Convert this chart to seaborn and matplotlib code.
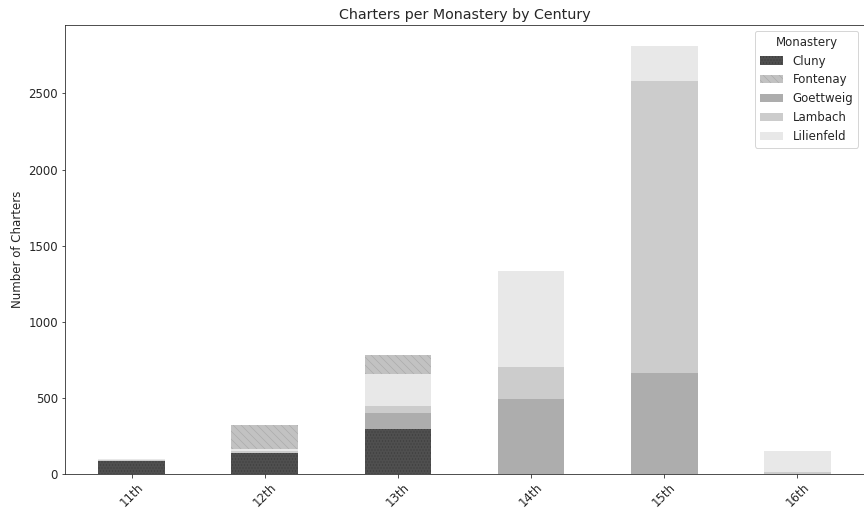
import numpy as np
import matplotlib
matplotlib.use("Agg")
import matplotlib.pyplot as plt
from matplotlib.patches import Patch
import seaborn as sns

# Data (charters per century, per monastery)
centuries = ["11th", "12th", "13th", "14th", "15th", "16th"]
cluny = [85, 140, 298, 0, 0, 0]
goettweig = [0, 0, 101, 490, 662, 0]
lambach = [10, 8, 48, 212, 1922, 10]
lilienfeld = [3, 14, 211, 634, 225, 141]
fontenay = [0, 160, 125, 0, 0, 0]

# stacking order bottom -> top as it appears in the chart
layers = [
    ("Cluny", cluny, "#4f4f4f", "....", "#3c3c3c"),
    ("Goettweig", goettweig, "#adadad", None, None),
    ("Lambach", lambach, "#cccccc", None, None),
    ("Lilienfeld", lilienfeld, "#e8e8e8", None, None),
    ("Fontenay", fontenay, "#c2c2c2", "\\\\\\", "#aaaaaa"),
]
legend_order = ["Cluny", "Fontenay", "Goettweig", "Lambach", "Lilienfeld"]

sns.set_style("ticks")
plt.rcParams["hatch.linewidth"] = 0.6
plt.rcParams["font.size"] = 11.8
plt.rcParams["xtick.labelsize"] = 11.8
plt.rcParams["ytick.labelsize"] = 11.8
plt.rcParams["axes.labelsize"] = 11.8
plt.rcParams["legend.fontsize"] = 11.8
plt.rcParams["legend.title_fontsize"] = 11.8

fig, ax = plt.subplots(figsize=(12, 514 / 72), dpi=72)

# cumulative heights, drawn from the top layer down so each covers the one below
cum = np.cumsum([np.array(vals) for _, vals, _, _, _ in layers], axis=0)
for (name, _, color, hatch, hcol), heights in reversed(list(zip(layers, cum))):
    if hatch:
        kw = dict(hatch=hatch, edgecolor=hcol, linewidth=0)
    else:
        kw = dict(linewidth=0)
    sns.barplot(x=centuries, y=heights, color=color, width=0.5,
                saturation=1, ax=ax, **kw)

ax.set_xlim(-0.5, len(centuries) - 0.5)
ax.set_ylim(0, cum[-1].max() * 1.05)
ax.set_title("Charters per Monastery by Century", fontsize=14.2)
ax.set_ylabel("Number of Charters")
ax.set_xlabel("")
plt.setp(ax.get_xticklabels(), rotation=45)

styles = {name: (color, hatch, hcol) for name, _, color, hatch, hcol in layers}
handles = []
for name in legend_order:
    color, hatch, hcol = styles[name]
    handles.append(Patch(facecolor=color, hatch=hatch,
                         edgecolor=hcol if hatch else color, linewidth=0, label=name))
ax.legend(handles=handles, title="Monastery", loc="upper right")

fig.subplots_adjust(left=65 / 864, right=864 / 864, top=1 - 25 / 514, bottom=1 - 474 / 514)
fig.savefig("out.png", dpi=72)
